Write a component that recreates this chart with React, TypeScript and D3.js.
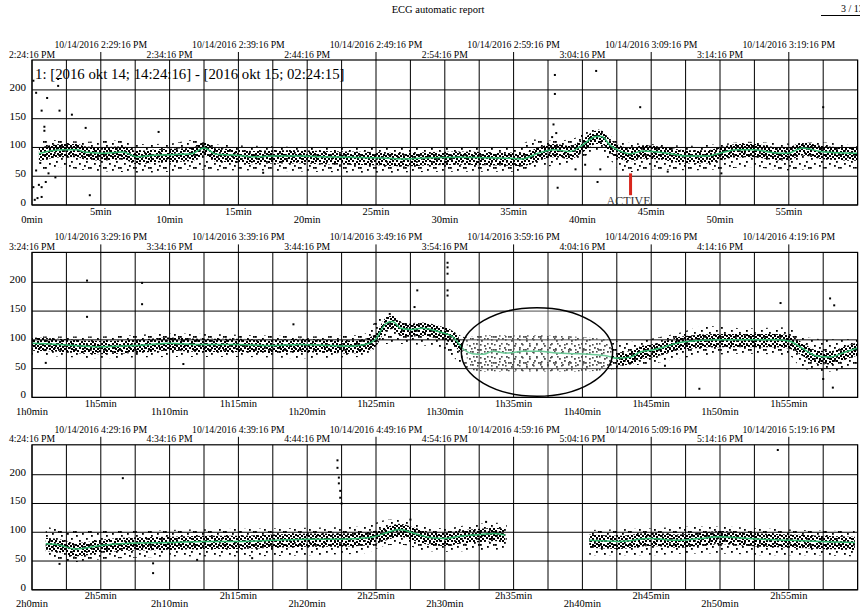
import React from "react";
import * as d3 from "d3";

const W = 860;
const H = 610;

const headerTitle = "ECG automatic report";
const pageLabel = "3 / 13";
const rangeLabel = "1: [2016 okt 14; 14:24:16] - [2016 okt 15; 02:24:15]";
const activeLabel = "ACTIVE";

const yTicks = [0, 50, 100, 150, 200];

const topDateLabels = [
  ["10/14/2016 2:29:16 PM", "10/14/2016 2:39:16 PM", "10/14/2016 2:49:16 PM", "10/14/2016 2:59:16 PM", "10/14/2016 3:09:16 PM", "10/14/2016 3:19:16 PM"],
  ["10/14/2016 3:29:16 PM", "10/14/2016 3:39:16 PM", "10/14/2016 3:49:16 PM", "10/14/2016 3:59:16 PM", "10/14/2016 4:09:16 PM", "10/14/2016 4:19:16 PM"],
  ["10/14/2016 4:29:16 PM", "10/14/2016 4:39:16 PM", "10/14/2016 4:49:16 PM", "10/14/2016 4:59:16 PM", "10/14/2016 5:09:16 PM", "10/14/2016 5:19:16 PM"],
];
const topTimeLabels = [
  ["2:24:16 PM", "2:34:16 PM", "2:44:16 PM", "2:54:16 PM", "3:04:16 PM", "3:14:16 PM"],
  ["3:24:16 PM", "3:34:16 PM", "3:44:16 PM", "3:54:16 PM", "4:04:16 PM", "4:14:16 PM"],
  ["4:24:16 PM", "4:34:16 PM", "4:44:16 PM", "4:54:16 PM", "5:04:16 PM", "5:14:16 PM"],
];
const bottomLabels = [
  ["0min", "5min", "10min", "15min", "20min", "25min", "30min", "35min", "40min", "45min", "50min", "55min"],
  ["1h0min", "1h5min", "1h10min", "1h15min", "1h20min", "1h25min", "1h30min", "1h35min", "1h40min", "1h45min", "1h50min", "1h55min"],
  ["2h0min", "2h5min", "2h10min", "2h15min", "2h20min", "2h25min", "2h30min", "2h35min", "2h40min", "2h45min", "2h50min", "2h55min"],
];

// ---- Panel 1 (0 - 60 min) ----
const trendP1: [number, number][] = [
  [0.5, 89], [1.3, 94], [2.5, 96], [3.3, 96], [3.8, 92], [5, 90], [6.6, 92], [7.6, 84], [9.1, 87], [10.8, 88],
  [11.6, 89], [12.5, 99], [13.4, 88], [14.6, 87], [16.1, 84], [17.5, 85], [19.5, 85], [21, 84], [23, 83], [25, 82],
  [27, 80], [29, 82], [31, 83], [33, 82], [35, 81], [35.6, 80], [36.9, 91], [37.9, 96], [39.1, 93], [40, 104],
  [41, 119], [41.4, 119], [42, 104], [42.7, 94], [43.5, 89], [44.4, 94], [45.1, 93], [46.4, 89], [47.6, 85], [49, 85],
  [50, 90], [51.2, 96], [52.4, 96], [53.9, 91], [54.9, 90], [56, 99], [57.3, 93], [58.5, 91], [59.4, 90], [60, 90],
];
const bandP1: [number, number, number][] = [
  [0.8, 58, 115], [2, 66, 112], [4, 60, 110], [6, 58, 112], [8, 56, 106], [10, 58, 107], [12, 62, 114], [13, 60, 106],
  [16, 60, 103], [20, 58, 101], [25, 56, 99], [30, 58, 99], [35, 58, 101], [36.5, 66, 114], [38, 68, 112], [39.5, 74, 117],
  [41, 94, 132], [42, 78, 120], [43, 56, 109], [45, 62, 106], [48, 60, 103], [50, 62, 106], [52, 66, 110], [55, 60, 107],
  [57, 63, 109], [60, 63, 102],
];
const outliersP1: [number, number][] = [
  [0.3, 195], [0.7, 164], [1.1, 186], [2, 164], [0.9, 129], [0.9, 136], [0.6, 73], [0.5, 35], [0.7, 31], [0.2, 9],
  [0.4, 12], [0.7, 14], [0.1, 31], [1, 40], [2.9, 157], [3.9, 134], [4.2, 17], [9.2, 127], [1.9, 219], [1.9, 207],
  [0.1, 216], [38, 226], [41, 233], [38, 193], [44.2, 170], [57.5, 170], [38.2, 30], [41.1, 40], [41.3, 62], [46.2, 58],
  [50.1, 55], [1.7, 48], [1.2, 55], [0.3, 60], [37.9, 140], [38.1, 125], [37.8, 118], [39.5, 62], [40.2, 70], [16.8, 56],
];

// ---- Panel 2 (1h0 - 2h0) ----
const trendP2: [number, number][] = [
  [0, 94], [1.3, 93], [2.5, 91], [5, 88], [7.5, 90], [8.6, 92], [10, 94], [12.2, 92], [15, 92], [17.3, 90],
  [19.5, 92], [21.7, 90], [23, 89], [24.2, 92], [25, 102], [25.7, 128], [26.2, 132], [26.8, 120], [27.5, 118], [28.3, 120],
  [29.6, 114], [30.6, 105], [31.3, 85], [32, 76], [32.8, 75], [33.5, 80], [34.5, 77], [35.7, 80], [36.9, 80], [38.1, 77],
  [39.3, 76], [40.5, 75], [41.8, 72], [42.5, 68], [43.5, 70], [44.2, 79], [45, 82], [46, 88], [47, 95], [48, 98],
  [50, 100], [52, 100], [54, 100], [55, 98], [56, 85], [57, 72], [58, 70], [59, 78], [60, 86],
];
const bandP2: [number, number, number][] = [
  [0, 74, 106], [5, 68, 106], [10, 70, 111], [15, 70, 109], [20, 68, 106], [24, 70, 109], [25.5, 93, 142], [27, 93, 132],
  [29, 88, 127], [30.5, 73, 116], [31.5, 50, 105], [33, 45, 108], [36, 45, 108], [40, 45, 105], [42, 48, 100], [43, 54, 96],
  [45, 58, 102], [47, 68, 112], [49, 73, 124], [52, 76, 120], [55, 73, 122], [56, 50, 106], [58, 45, 101], [60, 58, 102],
];
const outliersP2: [number, number][] = [
  [4, 203], [8, 199], [8, 162], [4, 140], [19, 127], [27.8, 157], [28, 186], [30.2, 234], [30.2, 226], [30.2, 215],
  [30.2, 186], [30.2, 177], [54.4, 164], [58, 172], [58.3, 160], [48.5, 15], [58.2, 17], [57.5, 32], [26, 145], [1, 60],
  [11, 58], [46, 55],
];
const sparseP2: [number, number][] = [[31.6, 42.3]];

// ---- Panel 3 (2h0 - 3h0), recording gap ~2h34.5 - 2h40.5 ----
const trendP3a: [number, number][] = [
  [1, 80], [2, 78], [3.1, 71], [4, 73], [5, 77], [7.1, 81], [10, 82], [12.5, 84], [15, 84], [17.5, 86],
  [20, 88], [22.4, 88], [24.6, 91], [26, 101], [26.7, 105], [27.8, 98], [28.9, 91], [30, 89], [31.1, 93], [32.6, 96],
  [33.6, 98], [34.4, 95],
];
const trendP3b: [number, number][] = [
  [40.5, 86], [42.7, 84], [44.9, 89], [47, 86], [48.5, 89], [50, 92], [51.5, 90], [52.9, 88], [55.1, 86], [57.3, 84], [59.8, 82],
];
const bandP3a: [number, number, number][] = [
  [1, 58, 110], [3, 48, 102], [5, 53, 102], [8, 56, 102], [10, 58, 104], [15, 58, 106], [20, 60, 108], [24, 63, 110],
  [26, 78, 122], [27, 78, 120], [28.5, 68, 110], [30, 66, 107], [32, 68, 114], [34.5, 70, 117],
];
const bandP3b: [number, number, number][] = [
  [40.5, 60, 104], [45, 60, 107], [48, 63, 110], [50, 63, 110], [53, 60, 107], [56, 60, 104], [59.8, 58, 102],
];
const outliersP3: [number, number][] = [
  [6.6, 194], [8.8, 46], [8.8, 29], [22.2, 225], [22.2, 212], [22.3, 195], [22.3, 185], [22.4, 172], [22.4, 160], [22.5, 150],
  [54.2, 243], [27.5, 122], [33, 118], [2, 45], [16, 55], [12, 52],
];

// marker & annotation data
const activeMarker = { panel: 0, minute: 43.5, from: 17, to: 55 };
const ellipseMark = { panel: 1, minute: 36.7, value: 79, halfMinutes: 5.5, halfValue: 77 };

const panels = [
  { trend: [trendP1], band: [bandP1], outliers: outliersP1, sparse: [] as [number, number][] },
  { trend: [trendP2], band: [bandP2], outliers: outliersP2, sparse: sparseP2 },
  { trend: [trendP3a, trendP3b], band: [bandP3a, bandP3b], outliers: outliersP3, sparse: [] as [number, number][] },
];

// styling constants
const LEFT = 32;
const RIGHT = 857.6;
const TOP0 = 60;
const PANEL_STEP = 192.4;
const PANEL_H = 145;
const Y_MAX = 252;
const CORE_BELOW = 13;
const CORE_ABOVE = 10;
const FONT = "'Liberation Serif', 'Times New Roman', Times, serif";
const GREEN = "#2fb46c";

const denseDots = [[0, 0], [4, 1], [7, 0], [2, 3], [6, 3], [9, 4], [0, 5], [4, 5], [7, 6], [2, 7], [9, 8], [5, 8]];
const sparseDots = [[1, 2], [7, 0], [11, 5], [4, 7], [9, 9], [13, 11], [0, 11]];
const midDots = [[1, 1], [8, 0], [11, 5], [4, 6], [9, 10], [1, 11]];

export default function App() {
  const x = d3.scaleLinear().domain([0, 60]).range([LEFT, RIGHT]);
  const gridMins = d3.range(0, 60.001, 2.5);

  return (
    <svg
      width={W}
      height={H}
      style={{ position: "absolute", left: 0, top: 0, background: "#fff" }}
      fontFamily={FONT}
    >
      <rect width={W} height={H} fill="#fff" />
      <defs>
        <pattern id="dense" patternUnits="userSpaceOnUse" width={11} height={10}>
          {denseDots.map((d, i) => (
            <rect key={i} x={d[0]} y={d[1]} width={2} height={2} fill="#000" />
          ))}
        </pattern>
        <pattern id="sparse" patternUnits="userSpaceOnUse" width={15} height={13}>
          {sparseDots.map((d, i) => (
            <rect key={i} x={d[0]} y={d[1]} width={1.8} height={1.8} fill="#000" />
          ))}
        </pattern>
        <pattern id="mid" patternUnits="userSpaceOnUse" width={14} height={13}>
          {midDots.map((d, i) => (
            <rect key={i} x={d[0]} y={d[1]} width={1.6} height={1.6} fill="#000" />
          ))}
        </pattern>
        {panels.map((p, pi) => {
          const top = TOP0 + pi * PANEL_STEP;
          return (
            <React.Fragment key={pi}>
              <clipPath id={`plot-${pi}`}>
                <rect x={LEFT} y={top} width={RIGHT - LEFT} height={PANEL_H} />
              </clipPath>
              {p.sparse.map((r, k) => (
                <clipPath key={k} id={`sp-${pi}-${k}`}>
                  <rect x={x(r[0])} y={top} width={x(r[1]) - x(r[0])} height={PANEL_H} />
                </clipPath>
              ))}
            </React.Fragment>
          );
        })}
      </defs>

      {/* page header */}
      <text x={438} y={13} fontSize={10.5} textAnchor="middle" fill="#000">
        {headerTitle}
      </text>
      <text x={841} y={12} fontSize={10} fill="#000">
        {pageLabel}
      </text>
      <line x1={821} x2={860} y1={15.5} y2={15.5} stroke="#000" strokeWidth={1} />

      {panels.map((p, pi) => {
        const top = TOP0 + pi * PANEL_STEP;
        const bottom = top + PANEL_H;
        const y = d3.scaleLinear().domain([0, Y_MAX]).range([bottom, top]);
        const inSparse = (m: number) => p.sparse.some(([a, b]) => m > a && m < b);

        const bandArea = d3
          .area<[number, number, number]>()
          .x((d) => x(d[0]))
          .y0((d) => y(d[1]))
          .y1((d) => y(d[2]))
          .curve(d3.curveMonotoneX);
        const coreArea = d3
          .area<[number, number]>()
          .defined((d) => !inSparse(d[0]))
          .x((d) => x(d[0]))
          .y0((d) => y(d[1] - CORE_BELOW))
          .y1((d) => y(d[1] + CORE_ABOVE))
          .curve(d3.curveMonotoneX);
        const trendLine = d3
          .line<[number, number]>()
          .x((d) => x(d[0]))
          .y((d) => y(d[1]))
          .curve(d3.curveMonotoneX);

        return (
          <g key={pi}>
            {/* gridlines */}
            {gridMins.map((m) => (
              <line key={`v${m}`} x1={x(m)} x2={x(m)} y1={top} y2={bottom} stroke="#000" strokeWidth={1} />
            ))}
            {yTicks.map((v) => (
              <line key={`h${v}`} x1={LEFT} x2={RIGHT} y1={y(v)} y2={y(v)} stroke="#000" strokeWidth={1} />
            ))}

            {/* point cloud */}
            <g clipPath={`url(#plot-${pi})`}>
              {p.band.map((b, k) => (
                <path key={`b${k}`} d={bandArea(b) || ""} fill="url(#sparse)" />
              ))}
              {p.sparse.map((r, k) => (
                <g key={`s${k}`} clipPath={`url(#sp-${pi}-${k})`}>
                  {p.band.map((b, j) => (
                    <path key={j} d={bandArea(b) || ""} fill="url(#mid)" />
                  ))}
                </g>
              ))}
              {p.trend.map((t, k) => (
                <path key={`c${k}`} d={coreArea(t) || ""} fill="url(#dense)" />
              ))}
              {p.outliers.map((o, k) => (
                <rect key={`o${k}`} x={x(o[0]) - 1} y={y(o[1]) - 1} width={2} height={2} fill="#000" />
              ))}
              {p.trend.map((t, k) => (
                <path key={`t${k}`} d={trendLine(t) || ""} fill="none" stroke={GREEN} strokeWidth={1.5} />
              ))}
            </g>

            {/* frame */}
            <rect x={LEFT} y={top} width={RIGHT - LEFT} height={PANEL_H} fill="none" stroke="#000" strokeWidth={1.2} />

            {/* y axis labels */}
            {yTicks.map((v) => (
              <text key={`yl${v}`} x={26} y={y(v) + 1} fontSize={11} textAnchor="end" fill="#000">
                {v}
              </text>
            ))}

            {/* top labels */}
            {topTimeLabels[pi].map((s, k) => (
              <text key={`tt${k}`} x={x(k * 10)} y={top - 2.5} fontSize={9.7} textAnchor="middle" fill="#000">
                {s}
              </text>
            ))}
            {topDateLabels[pi].map((s, k) => (
              <g key={`td${k}`}>
                <line x1={x(k * 10 + 5)} x2={x(k * 10 + 5)} y1={top - 8} y2={top} stroke="#000" strokeWidth={1} />
                <text x={x(k * 10 + 5)} y={top - 12} fontSize={9.7} textAnchor="middle" fill="#000">
                  {s}
                </text>
              </g>
            ))}

            {/* bottom labels */}
            {bottomLabels[pi].map((s, k) => (
              <text
                key={`bl${k}`}
                x={x(k * 5)}
                y={k % 2 === 0 ? bottom + 17.5 : bottom + 9.5}
                fontSize={10.5}
                textAnchor="middle"
                fill="#000"
              >
                {s}
              </text>
            ))}

            {pi === 0 && (
              <text x={35} y={top + 19} fontSize={14.8} fill="#000">
                {rangeLabel}
              </text>
            )}

            {pi === activeMarker.panel && (
              <g>
                <rect
                  x={x(activeMarker.minute) - 1.5}
                  y={y(activeMarker.to)}
                  width={3}
                  height={y(activeMarker.from) - y(activeMarker.to)}
                  fill="#d8261c"
                />
                <text x={x(activeMarker.minute) - 2} y={bottom - 0.5} fontSize={12} textAnchor="middle" fill="#333">
                  {activeLabel}
                </text>
              </g>
            )}

            {pi === ellipseMark.panel && (
              <ellipse
                cx={x(ellipseMark.minute)}
                cy={y(ellipseMark.value)}
                rx={x(ellipseMark.halfMinutes) - x(0)}
                ry={y(0) - y(ellipseMark.halfValue)}
                fill="rgba(255,255,255,0.3)"
                stroke="#000"
                strokeWidth={1.5}
              />
            )}
          </g>
        );
      })}
    </svg>
  );
}
